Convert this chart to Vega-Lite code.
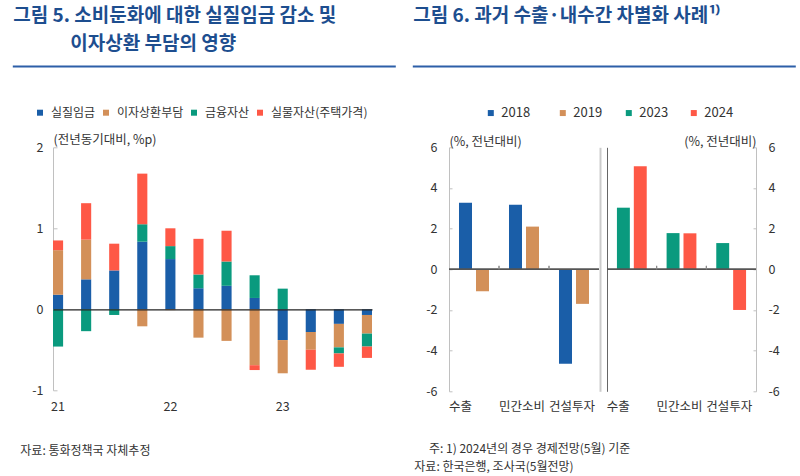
{
  "$schema": "https://vega.github.io/schema/vega-lite/v6.json",
  "padding": {"left": 12, "top": 6, "right": 5, "bottom": 2},
  "background": "white",
  "config": {
    "font": "Noto Sans CJK KR",
    "view": {"stroke": null},
    "axis": {"grid": false, "labelFont": "Noto Sans CJK KR", "labelColor": "#333333", "labelFontSize": 12.5, "titleFont": "Noto Sans CJK KR", "titleFontWeight": "normal", "titleColor": "#333333", "titleFontSize": 12.5},
    "legend": {"labelFont": "Noto Sans CJK KR", "labelColor": "#333333", "symbolType": "square", "symbolStrokeWidth": 0, "title": null},
    "title": {"font": "Noto Sans CJK KR"}
  },
  "datasets": {
    "wage": [
      {"q": "21Q1", "s": "실질임금", "v": 0.18, "k": 1}, {"q": "21Q1", "s": "이자상환부담", "v": 0.55, "k": 2}, {"q": "21Q1", "s": "금융자산", "v": -0.46, "k": 3}, {"q": "21Q1", "s": "실물자산(주택가격)", "v": 0.12, "k": 4},
      {"q": "21Q2", "s": "실질임금", "v": 0.37, "k": 1}, {"q": "21Q2", "s": "이자상환부담", "v": 0.49, "k": 2}, {"q": "21Q2", "s": "금융자산", "v": -0.27, "k": 3}, {"q": "21Q2", "s": "실물자산(주택가격)", "v": 0.45, "k": 4},
      {"q": "21Q3", "s": "실질임금", "v": 0.48, "k": 1}, {"q": "21Q3", "s": "이자상환부담", "v": 0.0, "k": 2}, {"q": "21Q3", "s": "금융자산", "v": -0.07, "k": 3}, {"q": "21Q3", "s": "실물자산(주택가격)", "v": 0.33, "k": 4},
      {"q": "21Q4", "s": "실질임금", "v": 0.835, "k": 1}, {"q": "21Q4", "s": "이자상환부담", "v": -0.21, "k": 2}, {"q": "21Q4", "s": "금융자산", "v": 0.215, "k": 3}, {"q": "21Q4", "s": "실물자산(주택가격)", "v": 0.625, "k": 4},
      {"q": "22Q1", "s": "실질임금", "v": 0.62, "k": 1}, {"q": "22Q1", "s": "이자상환부담", "v": -0.01, "k": 2}, {"q": "22Q1", "s": "금융자산", "v": 0.16, "k": 3}, {"q": "22Q1", "s": "실물자산(주택가격)", "v": 0.22, "k": 4},
      {"q": "22Q2", "s": "실질임금", "v": 0.26, "k": 1}, {"q": "22Q2", "s": "이자상환부담", "v": -0.35, "k": 2}, {"q": "22Q2", "s": "금융자산", "v": 0.17, "k": 3}, {"q": "22Q2", "s": "실물자산(주택가격)", "v": 0.44, "k": 4},
      {"q": "22Q3", "s": "실질임금", "v": 0.29, "k": 1}, {"q": "22Q3", "s": "이자상환부담", "v": -0.39, "k": 2}, {"q": "22Q3", "s": "금융자산", "v": 0.30, "k": 3}, {"q": "22Q3", "s": "실물자산(주택가격)", "v": 0.38, "k": 4},
      {"q": "22Q4", "s": "실질임금", "v": 0.14, "k": 1}, {"q": "22Q4", "s": "이자상환부담", "v": -0.69, "k": 2}, {"q": "22Q4", "s": "금융자산", "v": 0.28, "k": 3}, {"q": "22Q4", "s": "실물자산(주택가격)", "v": -0.06, "k": 4},
      {"q": "23Q1", "s": "실질임금", "v": -0.38, "k": 1}, {"q": "23Q1", "s": "이자상환부담", "v": -0.41, "k": 2}, {"q": "23Q1", "s": "금융자산", "v": 0.255, "k": 3}, {"q": "23Q1", "s": "실물자산(주택가격)", "v": 0.0, "k": 4},
      {"q": "23Q2", "s": "실질임금", "v": -0.28, "k": 1}, {"q": "23Q2", "s": "이자상환부담", "v": -0.22, "k": 2}, {"q": "23Q2", "s": "금융자산", "v": 0.0, "k": 3}, {"q": "23Q2", "s": "실물자산(주택가격)", "v": -0.245, "k": 4},
      {"q": "23Q3", "s": "실질임금", "v": -0.18, "k": 1}, {"q": "23Q3", "s": "이자상환부담", "v": -0.29, "k": 2}, {"q": "23Q3", "s": "금융자산", "v": -0.075, "k": 3}, {"q": "23Q3", "s": "실물자산(주택가격)", "v": -0.165, "k": 4},
      {"q": "23Q4", "s": "실질임금", "v": -0.07, "k": 1}, {"q": "23Q4", "s": "이자상환부담", "v": -0.23, "k": 2}, {"q": "23Q4", "s": "금융자산", "v": -0.16, "k": 3}, {"q": "23Q4", "s": "실물자산(주택가격)", "v": -0.14, "k": 4}
    ],
    "growth": [
      {"p": "A", "cat": "수출", "yr": "2018", "v": 3.27}, {"p": "A", "cat": "수출", "yr": "2019", "v": -1.08},
      {"p": "A", "cat": "민간소비", "yr": "2018", "v": 3.18}, {"p": "A", "cat": "민간소비", "yr": "2019", "v": 2.1},
      {"p": "A", "cat": "건설투자", "yr": "2018", "v": -4.65}, {"p": "A", "cat": "건설투자", "yr": "2019", "v": -1.7},
      {"p": "B", "cat": "수출", "yr": "2023", "v": 3.03}, {"p": "B", "cat": "수출", "yr": "2024", "v": 5.07},
      {"p": "B", "cat": "민간소비", "yr": "2023", "v": 1.78}, {"p": "B", "cat": "민간소비", "yr": "2024", "v": 1.77},
      {"p": "B", "cat": "건설투자", "yr": "2023", "v": 1.29}, {"p": "B", "cat": "건설투자", "yr": "2024", "v": -2.0}
    ]
  },
  "columns": 3,
  "bounds": "flush",
  "spacing": {"row": 81.3, "column": 8},
  "resolve": {"scale": {"x": "independent", "y": "independent", "color": "independent", "xOffset": "independent"}},
  "concat": [
    {
      "width": 388, "height": 1,
      "data": {"values": [{}]},
      "title": {"text": ["그림 5. 소비둔화에 대한 실질임금 감소 및", "\u200b\u3000\u3000\u3000이자상환 부담의 영향"], "orient": "top", "anchor": "start", "frame": "group", "dx": -39.7, "offset": 11, "fontSize": 19, "fontWeight": "bold", "color": "#1d4e8f", "lineHeight": 28.5},
      "mark": {"type": "point", "opacity": 0, "size": 0},
      "encoding": {
        "x": {"datum": 0, "type": "quantitative", "scale": {"domain": [0, 1], "range": [-40.7, 342.3]}, "axis": {"orient": "bottom", "domain": true, "domainColor": "#2d5fa8", "domainWidth": 2, "labels": false, "ticks": false, "title": null, "grid": false}}
      }
    },
    {
      "width": 150, "height": 1,
      "data": {"values": [{}]},
      "title": {"text": "그림 6. 과거 수출·내수간 차별화 사례¹⁾", "orient": "top", "anchor": "start", "frame": "group", "dx": -35.7, "offset": 39.5, "fontSize": 19, "fontWeight": "bold", "color": "#1d4e8f"},
      "mark": {"type": "point", "opacity": 0, "size": 0},
      "encoding": {
        "x": {"datum": 0, "type": "quantitative", "scale": {"domain": [0, 1], "range": [-36.7, 346.3]}, "axis": {"orient": "bottom", "domain": true, "domainColor": "#2d5fa8", "domainWidth": 2, "labels": false, "ticks": false, "title": null, "grid": false}}
      }
    },
    {
      "width": 149, "height": 1,
      "data": {"values": [{}]},
      "mark": {"type": "point", "opacity": 0, "size": 0}
    },
    {
      "width": 388, "height": 243,
      "data": {"name": "wage"},
      "title": {"text": "자료: 통화정책국 자체추정", "orient": "bottom", "anchor": "start", "frame": "group", "dx": -32.7, "offset": 33, "fontSize": 12, "fontWeight": "normal", "color": "#333333"},
      "mark": {"type": "bar"},
      "encoding": {
        "x": {"field": "q", "type": "nominal", "sort": null, "scale": {"range": [0, 319], "paddingInner": 0.64, "paddingOuter": 0}, "axis": {"orient": "bottom", "offset": -81, "domainColor": "#222222", "domainWidth": 1.2, "ticks": false, "labelAngle": 0, "labelPadding": 91, "labelExpr": "slice(datum.value, 2) == 'Q1' ? slice(datum.value, 0, 2) : ''", "title": null, "zindex": 1}},
        "y": {"field": "v", "type": "quantitative", "stack": "zero", "scale": {"domain": [-1, 2], "nice": false}, "axis": {"values": [-1, 0, 1, 2], "labelExpr": "'' + datum.value", "domainColor": "#c0c0c0", "tickColor": "#c0c0c0", "tickSize": -4, "labelPadding": 14, "title": "(전년동기대비, %p)", "titleAngle": 0, "titleAlign": "left", "titleBaseline": "middle", "titleX": 0, "titleY": -8}},
        "color": {"field": "s", "type": "nominal", "scale": {"domain": ["실질임금", "이자상환부담", "금융자산", "실물자산(주택가격)"], "range": ["#1a5ea8", "#d39059", "#0a9a7e", "#fe5846"]}, "legend": {"orient": "none", "legendX": -19, "legendY": -40.6, "direction": "horizontal", "symbolSize": 36, "labelFontSize": 12, "columnPadding": 4, "labelOffset": 5}},
        "order": {"field": "k", "type": "quantitative"}
      }
    },
    {
      "width": 150, "height": 244,
      "data": {"name": "growth"},
      "transform": [{"filter": "datum.p == 'A'"}],
      "title": {"text": ["\u200b\u3000\u00a0주: 1) 2024년의 경우 경제전망(5월) 기준", "자료: 한국은행, 조사국(5월전망)"], "orient": "bottom", "anchor": "start", "frame": "group", "dx": -34.7, "offset": 31, "fontSize": 12, "fontWeight": "normal", "color": "#333333", "lineHeight": 18.5},
      "layer": [
        {
          "mark": {"type": "bar"},
          "encoding": {
            "x": {"field": "cat", "type": "nominal", "sort": ["수출", "민간소비", "건설투자"], "scale": {"paddingInner": 0, "paddingOuter": 0}, "axis": {"domain": false, "ticks": false, "labelAngle": 0, "labelAlign": "left", "labelOffset": -25, "labelPadding": 9, "labelOverlap": false, "labelBound": false, "title": null}},
            "xOffset": {"field": "yr", "type": "nominal", "scale": {"paddingInner": 0.235, "paddingOuter": 0.588}},
            "y": {"field": "v", "type": "quantitative", "scale": {"domain": [-6, 6], "nice": false}, "axis": {"values": [-6, -4, -2, 0, 2, 4, 6], "labelExpr": "'' + datum.value", "domainColor": "#c0c0c0", "tickColor": "#c0c0c0", "tickSize": -3, "labelPadding": 15, "title": "(%, 전년대비)", "titleAngle": 0, "titleAlign": "left", "titleBaseline": "middle", "titleX": 0, "titleY": -6}},
            "color": {"field": "yr", "type": "nominal", "scale": {"domain": ["2018", "2019"], "range": ["#1a5ea8", "#d39059"]}, "legend": {"orient": "none", "legendX": 35.3, "legendY": -41, "direction": "horizontal", "symbolSize": 36, "labelFontSize": 13, "columnPadding": 26, "labelOffset": 4}}
          }
        },
        {
          "mark": {"type": "rule", "color": "#555555", "strokeWidth": 1},
          "encoding": {"y": {"datum": 0, "axis": {"orient": "right", "offset": 1, "domainColor": "#cccccc", "domainWidth": 2, "labels": false, "ticks": false, "title": null}}}
        },
        {
          "transform": [{"filter": "datum.cat != '수출'"}],
          "mark": {"type": "rule", "color": "#888888", "strokeWidth": 1},
          "encoding": {
            "x": {"field": "cat", "type": "nominal", "sort": ["수출", "민간소비", "건설투자"], "bandPosition": 0},
            "y": {"datum": 0, "axis": null},
            "y2": {"datum": 0.17}
          }
        }
      ],
      "resolve": {"axis": {"y": "independent"}}
    },
    {
      "width": 149, "height": 244,
      "data": {"name": "growth"},
      "transform": [{"filter": "datum.p == 'B'"}],
      "layer": [
        {
          "mark": {"type": "bar"},
          "encoding": {
            "x": {"field": "cat", "type": "nominal", "sort": ["수출", "민간소비", "건설투자"], "scale": {"paddingInner": 0, "paddingOuter": 0}, "axis": {"domain": false, "ticks": false, "labelAngle": 0, "labelAlign": "left", "labelOffset": -25, "labelPadding": 9, "labelOverlap": false, "labelBound": false, "title": null}},
            "xOffset": {"field": "yr", "type": "nominal", "scale": {"paddingInner": 0.235, "paddingOuter": 0.588}},
            "y": {"field": "v", "type": "quantitative", "scale": {"domain": [-6, 6], "nice": false}, "axis": {"orient": "right", "values": [-6, -4, -2, 0, 2, 4, 6], "labelExpr": "'' + datum.value", "domainColor": "#c0c0c0", "tickColor": "#c0c0c0", "tickSize": -3, "labelPadding": 15, "title": "(%, 전년대비)", "titleAngle": 0, "titleAlign": "right", "titleBaseline": "middle", "titleX": 0, "titleY": -6}},
            "color": {"field": "yr", "type": "nominal", "scale": {"domain": ["2023", "2024"], "range": ["#0a9a7e", "#fe5846"]}, "legend": {"orient": "none", "legendX": 15.3, "legendY": -41, "direction": "horizontal", "symbolSize": 36, "labelFontSize": 13, "columnPadding": 19, "labelOffset": 4}}
          }
        },
        {
          "mark": {"type": "rule", "color": "#555555", "strokeWidth": 1},
          "encoding": {"y": {"datum": 0, "axis": {"orient": "left", "domainColor": "#666666", "domainWidth": 1, "labels": false, "ticks": false, "title": null}}}
        },
        {
          "transform": [{"filter": "datum.cat != '수출'"}],
          "mark": {"type": "rule", "color": "#888888", "strokeWidth": 1},
          "encoding": {
            "x": {"field": "cat", "type": "nominal", "sort": ["수출", "민간소비", "건설투자"], "bandPosition": 0},
            "y": {"datum": 0, "axis": null},
            "y2": {"datum": 0.17}
          }
        }
      ],
      "resolve": {"axis": {"y": "independent"}}
    }
  ]
}
